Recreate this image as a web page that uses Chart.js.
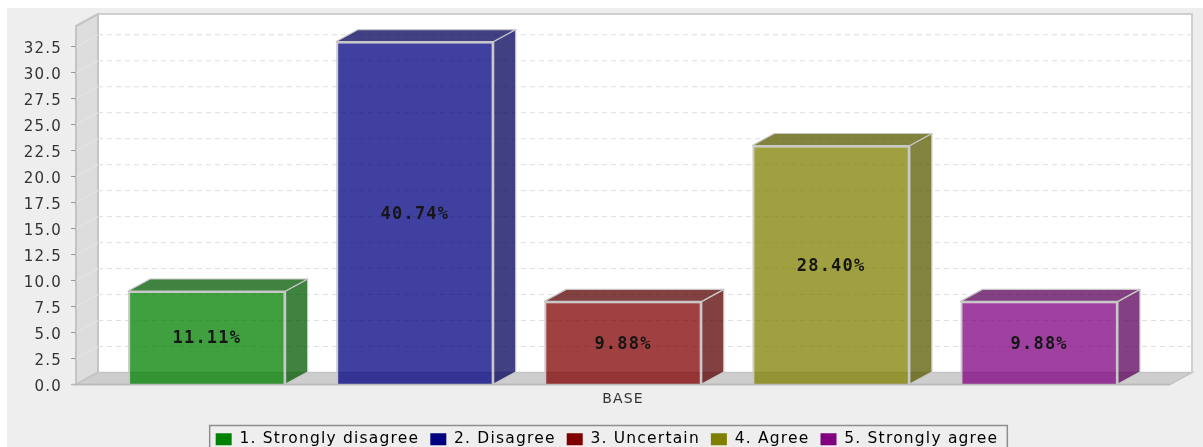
<!DOCTYPE html>
<html>
<head>
<meta charset="utf-8">
<title>BASE</title>
<script src="https://cdn.jsdelivr.net/npm/chart.js@4"></script>
<style>
  html, body { margin: 0; padding: 0; background: #fff; overflow: hidden; height: 447px; }
  canvas { display: block; filter: blur(0.45px); }
</style>
</head>
<body>
<!-- a legenda sai cortada embaixo, por isso o canvas passa da janela -->
<canvas id="grafico" width="1203" height="457"></canvas>
<script>
const categorias = ["BASE"];
const nomesSeries = ["1. Strongly disagree", "2. Disagree", "3. Uncertain", "4. Agree", "5. Strongly agree"];
const valores = [9, 33, 8, 23, 8];
const percentuais = ["11.11%", "40.74%", "9.88%", "28.40%", "9.88%"];
const coresBase = [[0, 128, 0], [0, 0, 128], [128, 0, 0], [128, 128, 0], [128, 0, 128]];

const DX = 22; // profundidade 3D
const DY = 12;
const DESLOC_LEGENDA = 22;

function rgba(c, a, f = 1) {
  return `rgba(${Math.round(c[0] * f)}, ${Math.round(c[1] * f)}, ${Math.round(c[2] * f)}, ${a})`;
}

function poligono(c, pts, fill, stroke, lw = 1) {
  c.beginPath();
  pts.forEach((p, i) => (i ? c.lineTo(p[0], p[1]) : c.moveTo(p[0], p[1])));
  c.closePath();
  if (fill) { c.fillStyle = fill; c.fill(); }
  if (stroke) { c.strokeStyle = stroke; c.lineWidth = lw; c.stroke(); }
}

// fundo, paredes e grade deslocada para a parede de tras
const cenario = {
  id: "cenario",
  beforeLayout(chart) {
    chart.ctx.letterSpacing = "1.2px";
  },
  afterLayout(chart) {
    chart.legend.left += DESLOC_LEGENDA;
    chart.legend.right += DESLOC_LEGENDA;
  },
  beforeDraw(chart) {
    const c = chart.ctx;
    const a = chart.chartArea;
    c.letterSpacing = "1.2px";
    c.save();
    c.fillStyle = "#eeeeee";
    c.fillRect(7, 8, chart.width - 7, chart.height - 8);
    c.fillStyle = "#ffffff";
    c.fillRect(a.left + DX, a.top - DY, a.right - a.left, a.bottom - a.top);
    poligono(c, [[a.left, a.top], [a.left + DX, a.top - DY], [a.left + DX, a.bottom - DY], [a.left, a.bottom]], "#dddddd", "#c4c4c4", 2);
    poligono(c, [[a.left, a.bottom], [a.left + DX, a.bottom - DY], [a.right + DX, a.bottom - DY], [a.right, a.bottom]], "#cecece", "#c4c4c4", 1.5);
    c.strokeStyle = "#cfcfcf";
    c.lineWidth = 2;
    c.beginPath();
    c.moveTo(a.left + DX, a.top - DY);
    c.lineTo(a.right + DX, a.top - DY);
    c.lineTo(a.right + DX, a.bottom - DY);
    c.stroke();

    const y = chart.scales.y;
    y.ticks.forEach((t) => {
      if (t.value === 0) return;
      const py = y.getPixelForValue(t.value);
      c.strokeStyle = "#e6e6e6";
      c.lineWidth = 1;
      c.setLineDash([]);
      c.beginPath();
      c.moveTo(a.left, py);
      c.lineTo(a.left + DX, py - DY);
      c.stroke();
      c.strokeStyle = "#dedede";
      c.setLineDash([5, 4]);
      c.beginPath();
      c.moveTo(a.left + DX, py - DY);
      c.lineTo(a.right + DX, py - DY);
      c.stroke();
      c.setLineDash([]);
    });
    c.restore();
  },
  // faces de cima e do lado de cada barra
  beforeDatasetsDraw(chart) {
    const c = chart.ctx;
    c.save();
    c.lineJoin = "round";
    chart.data.datasets.forEach((ds, i) => {
      const b = chart.getDatasetMeta(i).data[0];
      const l = b.x - b.width / 2;
      const r = b.x + b.width / 2;
      const cor = rgba(coresBase[i], 0.75, 0.7);
      poligono(c, [[r, b.y], [r + DX, b.y - DY], [r + DX, b.base - DY], [r, b.base]], cor, "#c8c8c8", 1.2);
      poligono(c, [[l, b.y], [l + DX, b.y - DY], [r + DX, b.y - DY], [r, b.y]], cor, "#c8c8c8", 1.2);
    });
    c.restore();
  },
  afterDatasetsDraw(chart) {
    const c = chart.ctx;
    c.save();
    c.font = "bold 17px 'DejaVu Sans Mono'";
    c.letterSpacing = "1.2px";
    c.fillStyle = "#161616";
    c.textAlign = "center";
    c.textBaseline = "middle";
    chart.data.datasets.forEach((ds, i) => {
      const b = chart.getDatasetMeta(i).data[0];
      c.fillText(percentuais[i], b.x, (b.y + b.base) / 2 + 1.5);
    });
    c.restore();
    // linha do chao
    const a = chart.chartArea;
    c.save();
    c.strokeStyle = "#b8b8b8";
    c.lineWidth = 1.5;
    c.beginPath();
    c.moveTo(a.left - 5, a.bottom);
    c.lineTo(a.right, a.bottom);
    c.stroke();
    c.restore();
  },
  // moldura da legenda
  afterDraw(chart) {
    const c = chart.ctx;
    const caixas = chart.legend.legendHitBoxes;
    const ini = caixas[0];
    const fim = caixas[caixas.length - 1];
    c.save();
    c.strokeStyle = "#8e8e8e";
    c.lineWidth = 1.5;
    c.strokeRect(ini.left - 6, 425.5, fim.left + fim.width - ini.left + 15, 40);
    c.restore();
  },
};

const datasets = nomesSeries.map((nome, i) => ({
  label: nome,
  data: [valores[i]],
  backgroundColor: rgba(coresBase[i], 0.75),
  borderColor: "#c8c8c8",
  borderWidth: 2,
}));

new Chart(document.getElementById("grafico"), {
  type: "bar",
  data: { labels: categorias, datasets: datasets },
  options: {
    responsive: false,
    animation: false,
    devicePixelRatio: 1,
    categoryPercentage: 0.951,
    barPercentage: 0.757,
    layout: { padding: { top: 26, right: 33, left: 0, bottom: 0 } },
    scales: {
      x: {
        grid: { display: false, tickLength: 0 },
        border: { display: false },
        ticks: { color: "#333333", font: { family: "DejaVu Sans", size: 14 }, padding: 6 },
        afterFit(scale) { scale.height = 36; },
      },
      y: {
        min: 0,
        max: 34.5,
        grid: { drawOnChartArea: false, drawTicks: true, tickLength: 5, color: "#999999" },
        border: { display: false },
        ticks: {
          stepSize: 2.5,
          includeBounds: false,
          color: "#333333",
          padding: 9,
          labelOffset: 2.5,
          font: { family: "DejaVu Sans", size: 15 },
          callback: (v) => v.toFixed(1),
        },
        afterFit(scale) { scale.width = 76; },
      },
    },
    plugins: {
      title: { display: false },
      tooltip: { enabled: false },
      legend: {
        position: "bottom",
        labels: {
          boxWidth: 16,
          boxHeight: 12,
          padding: 11,
          color: "#222222",
          font: { family: "DejaVu Sans", size: 15.5 },
          generateLabels(chart) {
            return chart.data.datasets.map((ds, i) => ({
              text: ds.label,
              fillStyle: rgba(coresBase[i], 1),
              strokeStyle: "#ffffff",
              lineWidth: 0,
              datasetIndex: i,
            }));
          },
        },
      },
    },
  },
  plugins: [cenario],
});
</script>
</body>
</html>
